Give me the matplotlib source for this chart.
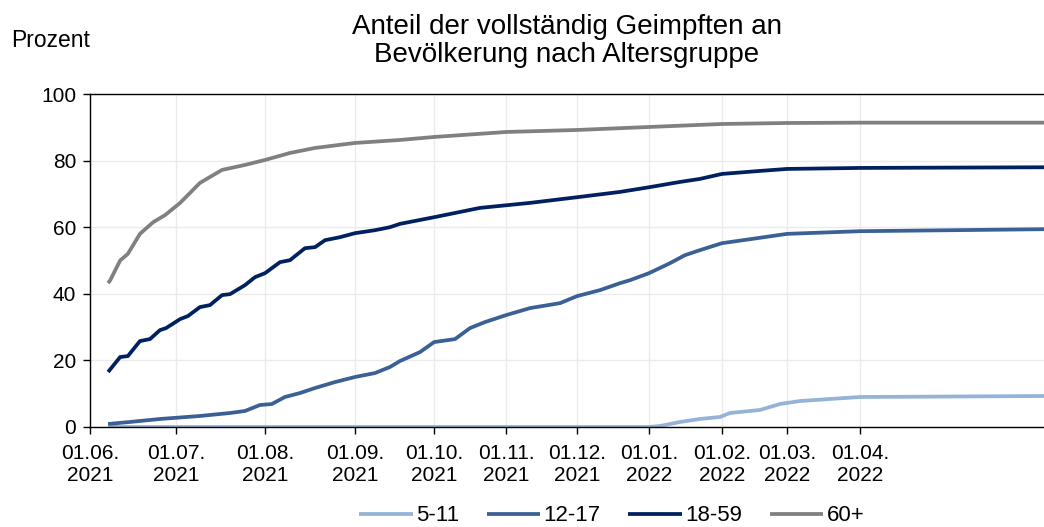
import matplotlib
matplotlib.use("Agg")
import matplotlib.pyplot as plt

plt.rcParams.update({"font.family": ["Liberation Sans", "DejaVu Sans"], "font.size": 15})

# category positions of the month ticks on the chart's x scale
tick_pos = [0, 30, 61, 92.3, 119.9, 145, 169.7, 194.8, 220.2, 242.9, 268.3]
tick_labels = ["01.06.\n2021", "01.07.\n2021", "01.08.\n2021", "01.09.\n2021", "01.10.\n2021",
               "01.11.\n2021", "01.12.\n2021", "01.01.\n2022", "01.02.\n2022", "01.03.\n2022",
               "01.04.\n2022"]
x_end = 332.4

# 60+
x_60 = [6.3, 7, 10.5, 13.2, 17.4, 22, 26.1, 31.4, 38.3, 46, 54, 61, 69.7, 78.4, 92.3, 108,
        119.9, 145, 169.7, 194.8, 220.2, 242.9, 268.3, 332.4]
y_60 = [43.2, 44, 50, 52, 58, 61.5, 63.6, 67.3, 73.3, 77.2, 78.7, 80.2, 82.3, 83.8, 85.3, 86.2,
        87.1, 88.6, 89.2, 90.1, 91.0, 91.3, 91.4, 91.4]

# 18-59
x_18 = [6.3, 10.5, 13.2, 17.4, 20.9, 24.4, 26.5, 31.4, 34.1, 38.3, 41.8, 46, 48.8, 54, 57.5,
        61, 66.2, 69.7, 74.9, 78.4, 81.9, 87.1, 92.3, 99.3, 104.5, 108, 119.9, 135.9, 153.3,
        169.7, 184.7, 194.8, 205.6, 212.5, 220.2, 233.4, 242.9, 268.3, 332.4]
y_18 = [16.5, 21, 21.3, 25.8, 26.4, 29.1, 29.7, 32.4, 33.3, 36, 36.6, 39.6, 39.9, 42.6, 45,
        46.2, 49.5, 50.1, 53.7, 54, 56.1, 57, 58.2, 59.1, 60, 61, 63, 65.8, 67.3,
        69, 70.6, 72, 73.6, 74.5, 76, 76.9, 77.5, 77.8, 78]

# 12-17
x_12 = [6.3, 13.9, 24.4, 38.3, 48.8, 54, 59.2, 63.4, 67.9, 73.2, 78.4, 85.4, 92.3, 99.3, 104.5,
        108, 115, 119.9, 127.2, 132.4, 137.6, 145, 153.3, 163.8, 169.7, 177.7, 184.7, 188.2,
        194.8, 202.1, 207.3, 212.5, 220.2, 230, 242.9, 268.3, 332.4]
y_12 = [0.9, 1.5, 2.4, 3.3, 4.2, 4.8, 6.6, 6.9, 9, 10.2, 11.7, 13.5, 15, 16.2, 18,
        19.8, 22.5, 25.5, 26.4, 29.7, 31.5, 33.6, 35.7, 37.2, 39.3, 41.1, 43.2, 44.1,
        46.2, 49.2, 51.6, 53.1, 55.2, 56.4, 58, 58.8, 59.4]

# 5-11
x_5 = [6.3, 194.8, 198.6, 205.6, 212.5, 219.5, 223, 233.4, 240.4, 247.4, 257.8, 268.3, 332.4]
y_5 = [0, 0, 0.3, 1.5, 2.4, 3, 4.2, 5.1, 6.9, 7.8, 8.4, 9, 9.3]

fig = plt.figure(figsize=(10.44, 5.27), dpi=100)
ax = fig.add_axes([0.0862, 0.1898, 0.9138, 0.6318])

ax.plot(x_5, y_5, color="#95B3D7", lw=2.7, label="5-11", solid_capstyle="butt")
ax.plot(x_12, y_12, color="#3A6096", lw=2.7, label="12-17", solid_capstyle="butt")
ax.plot(x_18, y_18, color="#002060", lw=2.7, label="18-59", solid_capstyle="butt")
ax.plot(x_60, y_60, color="#808080", lw=2.7, label="60+", solid_capstyle="butt")

ax.set_xlim(0, x_end)
ax.set_ylim(0, 100)
ax.set_yticks([0, 20, 40, 60, 80, 100])
ax.set_xticks(tick_pos)
ax.set_xticklabels(tick_labels, linespacing=1.2)
ax.tick_params(axis="both", direction="out", length=5, width=1, colors="black", labelsize=15)
ax.tick_params(axis="x", pad=7)
ax.tick_params(axis="y", pad=5)
ax.grid(True, color="#EBEBEB", lw=1)
ax.set_axisbelow(True)
for s in ["left", "top", "bottom"]:
    ax.spines[s].set_color("black")
    ax.spines[s].set_linewidth(1)
ax.spines["right"].set_visible(False)

fig.text(0.543, 0.922, "Anteil der vollständig Geimpften an\nBevölkerung nach Altersgruppe",
         ha="center", va="center", fontsize=20, linespacing=1.1)
fig.text(0.011, 0.911, "Prozent", ha="left", va="baseline", fontsize=16.5)

fig.legend(loc="center", bbox_to_anchor=(0.586, 0.021), ncol=4, frameon=False, fontsize=16,
           handlelength=2.4, handletextpad=0.15, columnspacing=1.25, borderaxespad=0)

fig.savefig("out.png", dpi=100)
